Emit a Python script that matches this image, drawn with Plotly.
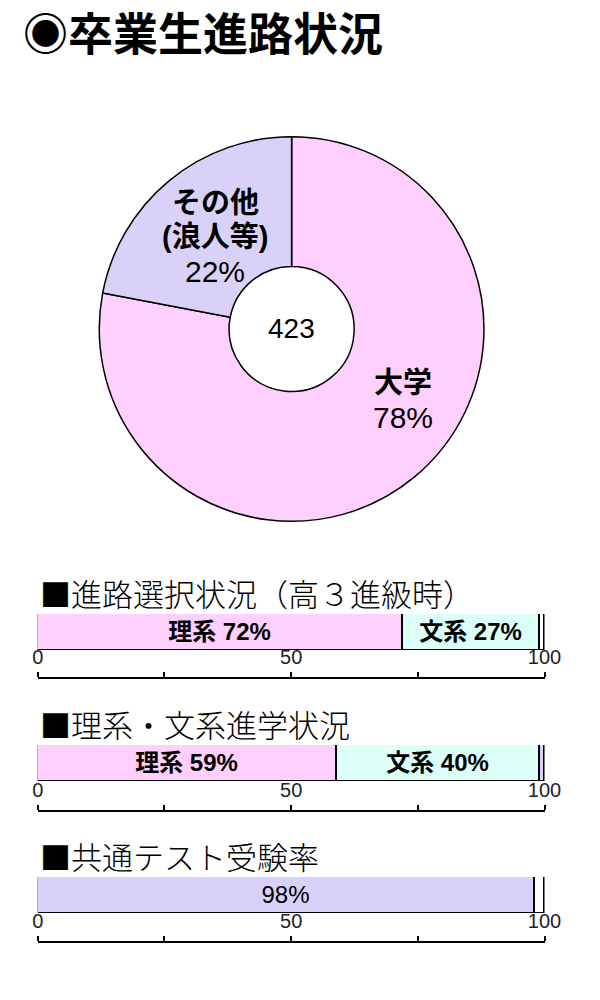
import plotly.graph_objects as go

# --- data ---
pie_labels = ["大学", "その他（浪人等）"]
pie_values = [78, 22]
pie_total = 423

section_titles = ["■進路選択状況（高３進級時）", "■理系・文系進学状況", "■共通テスト受験率"]
bar1_values = [72, 27, 1]
bar1_labels = ["理系 72%", "文系 27%", ""]
bar2_values = [59, 40, 1]
bar2_labels = ["理系 59%", "文系 40%", ""]
bar3_values = [98, 2]
bar3_labels = ["98%", ""]
scale_ticks = [0, 25, 50, 75, 100]
scale_text = ["0", "", "50", "", "100"]

PINK = "#FFCFFD"
PURPLE = "#D9D1F8"
CYAN = "#DCFFF8"
W, H = 600, 1000
JP = "Liberation Sans, Noto Sans CJK JP"


def px(x):
    return x / W


def py(y):
    return 1 - y / H


fig = go.Figure()

fig.add_trace(go.Pie(
    labels=pie_labels, values=pie_values, sort=False, direction="clockwise",
    rotation=0, hole=0.325, textinfo="none", hoverinfo="skip",
    marker=dict(colors=[PINK, PURPLE], line=dict(color="black", width=1.5)),
    domain=dict(x=[px(97), px(497)], y=[py(529), py(129)]),
    showlegend=False,
))

panels = [
    (bar1_values, bar1_labels, [PINK, CYAN, "white"], True),
    (bar2_values, bar2_labels, [PINK, CYAN, PURPLE], True),
    (bar3_values, bar3_labels, [PURPLE, "white"], False),
]
bar_tops = [614, 745, 877]
bar_h = 36
axis_lines = [678, 811, 942]

for i, (vals, labs, cols, bold) in enumerate(panels):
    n = "" if i == 0 else str(i + 1)
    for v, lab, c in zip(vals, labs, cols):
        fig.add_trace(go.Bar(
            x=[v], y=[0], orientation="h", width=1,
            marker=dict(color=c, line=dict(color="black", width=1.5)),
            text=[f"<b>{lab}</b>" if (bold and lab) else lab],
            textposition="inside", insidetextanchor="middle", textangle=0,
            textfont=dict(size=24, color="black", family=JP),
            hoverinfo="skip", showlegend=False,
            xaxis="x" + n, yaxis="y" + n,
        ))
    top = bar_tops[i]
    fig.layout["xaxis" + n] = dict(domain=[px(33), px(560)], range=[0, 100],
                                   visible=False, anchor="y" + n, fixedrange=True)
    fig.layout["yaxis" + n] = dict(domain=[py(top + bar_h), py(top)], range=[-0.5, 0.5],
                                   visible=False, anchor="x" + n, fixedrange=True)
    # scale underneath each bar
    s = str(i + 4)
    fig.add_trace(go.Scatter(x=[0, 100], y=[0, 0], mode="markers", opacity=0,
                             hoverinfo="skip", showlegend=False,
                             xaxis="x" + s, yaxis="y" + n))
    fig.layout["xaxis" + s] = dict(
        overlaying="x" + n, anchor="free", position=py(axis_lines[i]), side="top",
        range=[0, 100], tickvals=scale_ticks, ticktext=scale_text,
        ticks="outside", ticklen=5, tickwidth=2, tickcolor="black",
        showline=True, linecolor="black", linewidth=2, showgrid=False, zeroline=False,
        tickfont=dict(size=20, color="#222", family="Liberation Sans Narrow, Liberation Sans"),
        fixedrange=True,
    )
    fig.add_annotation(text=section_titles[i], x=px(33), y=py(top - 22),
                       xref="paper", yref="paper", xanchor="left", yanchor="middle",
                       showarrow=False,
                       font=dict(size=31, color="black", family="Noto Sans CJK JP", weight=300))

# pie labels
pie_notes = [
    ("<b>その他</b>", 218, 203, 29),
    ("<b>(浪人等)</b>", 217, 237, 29),
    ("22%", 217, 271, 30),
    ("<b>大学</b>", 413, 383, 29),
    ("78%", 413, 418, 30),
    (str(pie_total), 297, 329, 28),
]
for t, x, y, sz in pie_notes:
    fig.add_annotation(text=t, x=px(x), y=py(y), xref="paper", yref="paper",
                       showarrow=False, xanchor="center", yanchor="middle",
                       font=dict(size=sz, color="black", family=JP))

fig.add_annotation(text="<b>◉卒業生進路状況</b>", x=px(16), y=py(31), xref="paper", yref="paper",
                   xanchor="left", yanchor="middle", showarrow=False,
                   font=dict(size=45, color="black", family="Noto Sans CJK JP"))

fig.update_layout(
    width=W, height=H, margin=dict(l=0, r=0, t=0, b=0),
    paper_bgcolor="white", plot_bgcolor="rgba(0,0,0,0)",
    barmode="stack", bargap=0, autosize=False,
)

# drop the default page margin so the figure sits at the window's top-left corner
fix_page = "document.body.style.margin='0';document.body.style.overflow='hidden';"
fig.write_html("out.html", post_script=fix_page,
               config={"responsive": False, "displayModeBar": False})
